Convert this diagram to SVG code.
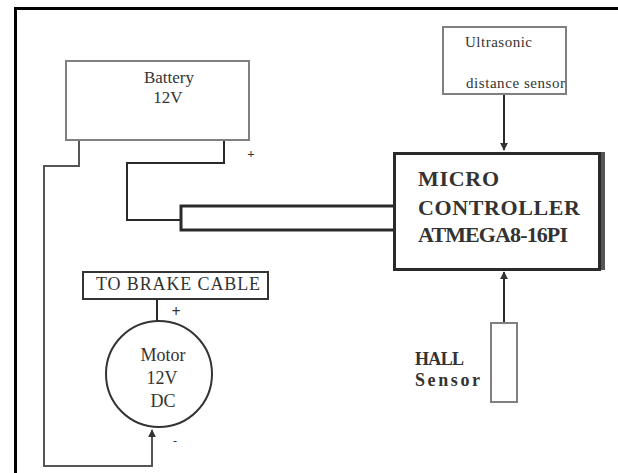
<svg xmlns="http://www.w3.org/2000/svg" width="618" height="473" viewBox="0 0 618 473">
<defs>
<style>
.t{font-family:"Liberation Serif","Times New Roman",serif;fill:#333}
.b{font-weight:bold}
.box{fill:#fff;stroke:#808080;stroke-width:2}
.w{fill:none;stroke:#555;stroke-width:2}
.wd{fill:none;stroke:#2a2a2a;stroke-width:2}
</style>
<marker id="ah" viewBox="0 0 10 10" refX="9" refY="5" markerWidth="4" markerHeight="4" orient="auto">
<path d="M0,0 L10,5 L0,10 z" fill="#333"/>
</marker>
</defs>
<rect width="618" height="473" fill="#fff"/>
<g id="frame">
<line x1="15" y1="8.5" x2="618" y2="8.5" stroke="#000" stroke-width="3"/>
<line x1="15.5" y1="7" x2="15.5" y2="473" stroke="#000" stroke-width="3"/>
</g>
<g id="connectors">
<path class="w" d="M79,141 V166 H44 V466 H152 V430" marker-end="url(#ah)" stroke="#666"/>
<path class="wd" d="M224,141 V163 H127 V220 H180"/>
<path d="M394,206 H181 V230 H394" fill="none" stroke="#2a2a2a" stroke-width="3"/>
<path class="wd" d="M504,94 V150" marker-end="url(#ah)"/>
<path class="wd" d="M504,323 V272" marker-end="url(#ah)"/>
<path class="wd" d="M157,300 V322"/>
</g>
<g id="battery">
<rect class="box" x="66" y="61" width="183" height="79"/>
<text class="t" x="169" y="83" font-size="17" text-anchor="middle" fill="#444">Battery</text>
<text class="t" x="168" y="103" font-size="17" text-anchor="middle" fill="#555">12V</text>
<text class="t b" x="251" y="158" font-size="13" text-anchor="middle">+</text>
</g>
<g id="ultrasonic">
<rect class="box" x="443" y="27" width="123" height="67"/>
<text class="t" x="465" y="47" font-size="15" textLength="67" fill="#555">Ultrasonic</text>
<text class="t" x="466" y="88" font-size="15" textLength="99" fill="#555">distance sensor</text>
</g>
<g id="mcu">
<rect x="600" y="152" width="5" height="118" fill="#555"/>
<rect x="394.5" y="153.5" width="205" height="116" fill="#fff" stroke="#2a2a2a" stroke-width="3"/>
<text class="t b" x="418" y="186" font-size="22" textLength="81">MICRO</text>
<text class="t b" x="418" y="215" font-size="22" textLength="162">CONTROLLER</text>
<text class="t b" x="418" y="242" font-size="22" textLength="150">ATMEGA8-16PI</text>
</g>
<g id="hall">
<rect class="box" x="491" y="323" width="26" height="79"/>
<text class="t b" x="415" y="365" font-size="18" textLength="49">HALL</text>
<text class="t b" x="415" y="386" font-size="18" textLength="65">Sensor</text>
</g>
<g id="brake">
<rect x="83" y="272" width="185" height="27" fill="#fff" stroke="#333" stroke-width="2"/>
<text class="t" x="96" y="290" font-size="18" textLength="164">TO BRAKE CABLE</text>
</g>
<g id="motor">
<circle cx="159" cy="374" r="53" fill="#fff" stroke="#333" stroke-width="2"/>
<text class="t" x="163" y="361" font-size="18" text-anchor="middle" fill="#555">Motor</text>
<text class="t" x="162" y="384" font-size="18" text-anchor="middle" fill="#555">12V</text>
<text class="t" x="163" y="407" font-size="18" text-anchor="middle" fill="#555">DC</text>
<text class="t b" x="176" y="317" font-size="16" text-anchor="middle">+</text>
<text class="t" x="175" y="445" font-size="12" text-anchor="middle">-</text>
</g>
</svg>
